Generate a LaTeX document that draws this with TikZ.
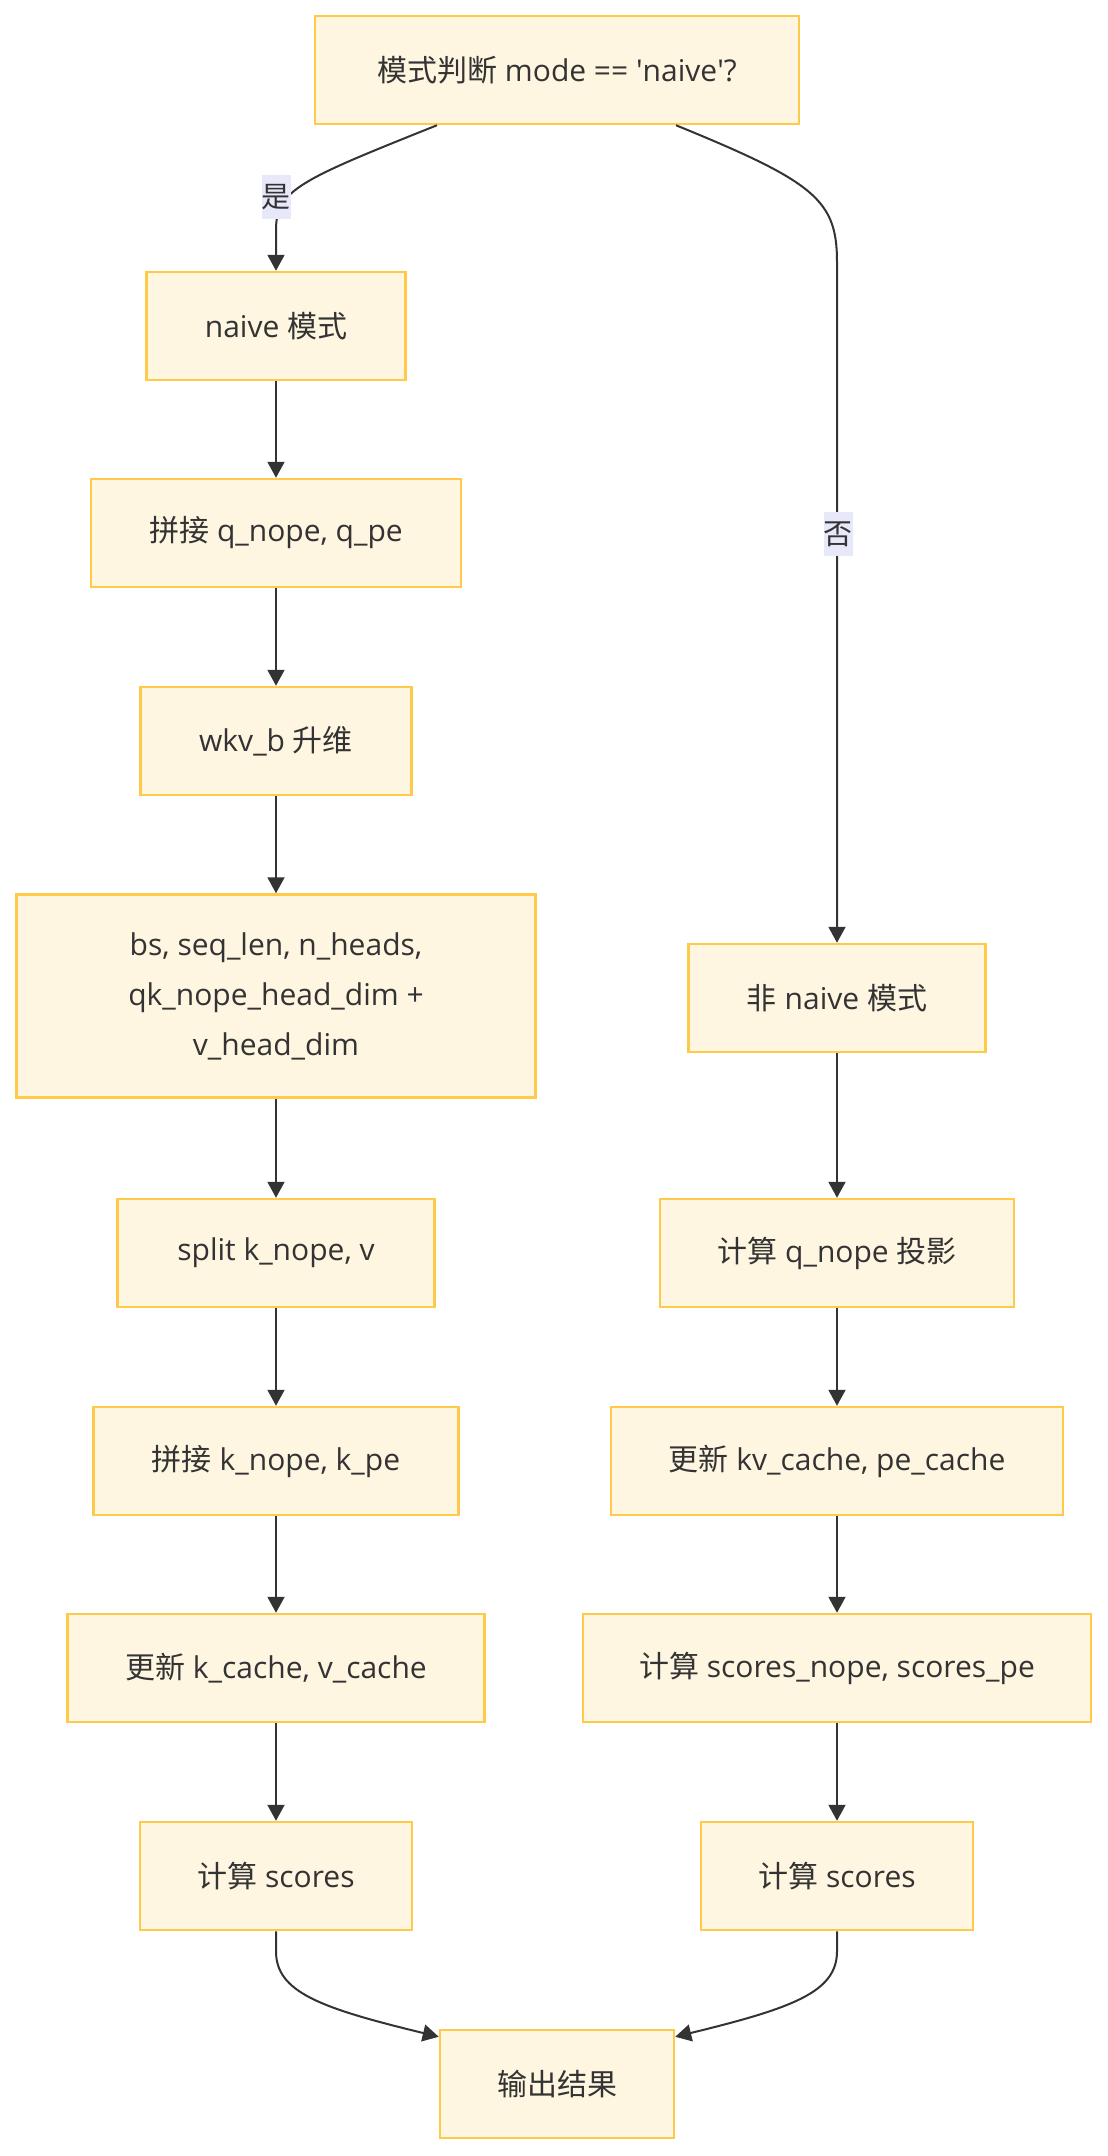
\documentclass[tikz,border=0pt]{standalone}
\usepackage{fontspec}
\setmainfont{Open Sans}
\newfontfamily\cjk{Noto Sans CJK SC}
\usetikzlibrary{arrows.meta}
\definecolor{boxfill}{HTML}{FFF6E2}
\definecolor{boxline}{HTML}{FFC94A}
\definecolor{ink}{HTML}{333333}
\definecolor{lblbg}{HTML}{E8E8FB}
\begin{document}
\begin{tikzpicture}[x=1pt,y=-1pt,
  box/.style={draw=boxline,fill=boxfill,line width=2.5pt,minimum height=108pt,inner sep=0pt,align=center,text=ink,font=\fontsize{30}{50}\selectfont},
  conn/.style={draw=ink,line width=2pt,-{Triangle[length=16pt,width=17pt]}},
  lbl/.style={fill=lblbg,text=ink,inner sep=0pt,minimum width=29pt,minimum height=44pt,font=\fontsize{29}{34}\selectfont}]
\useasboundingbox (0,0) rectangle (1108,2156);
% nodes
\node[box,minimum width=484pt] (top) at (557,70) {{\cjk 模式判断} mode == \textquotesingle naive\textquotesingle ?};
\node[box,minimum width=259pt] (naive) at (276,326) {naive {\cjk 模式}};
\node[box,minimum width=370pt] (qcat) at (276,533) {{\cjk 拼接} q\_nope, q\_pe};
\node[box,minimum width=271pt] (wkv) at (276,741) {wkv\_b {\cjk 升维}};
\node[box,minimum width=519pt,minimum height=203pt] (bs) at (276,996) {bs, seq\_len, n\_heads,\\qk\_nope\_head\_dim +\\v\_head\_dim};
\node[box,minimum width=317pt] (split) at (276,1253) {split k\_nope, v};
\node[box,minimum width=365pt] (kcat) at (276,1461) {{\cjk 拼接} k\_nope, k\_pe};
\node[box,minimum width=417pt] (kcache) at (276,1668) {{\cjk 更新} k\_cache, v\_cache};
\node[box,minimum width=272pt] (scl) at (276,1876) {{\cjk 计算} scores};
\node[box,minimum width=297pt] (nonnaive) at (837,998) {{\cjk 非} naive {\cjk 模式}};
\node[box,minimum width=354pt] (qnope) at (837,1253) {{\cjk 计算} q\_nope {\cjk 投影}};
\node[box,minimum width=452pt] (kvcache) at (837,1461) {{\cjk 更新} kv\_cache, pe\_cache};
\node[box,minimum width=508pt] (snope) at (837,1668) {{\cjk 计算} scores\_nope, scores\_pe};
\node[box,minimum width=272pt] (scr) at (837,1876) {{\cjk 计算} scores};
\node[box,minimum width=234pt] (out) at (557,2084) {{\cjk 输出结果}};
% connectors
\draw[conn] ([xshift=-120pt]top.south) .. controls (300,180) and (276,190) .. (276,230) -- (naive.north);
\draw[conn] ([xshift=119pt]top.south) .. controls (815,182) and (837,200) .. (837,262) -- (nonnaive.north);
\node[lbl] (yes) at (276,197) {\cjk 是};
\node[lbl] (no) at (838,534) {\cjk 否};
\draw[conn] (naive) -- (qcat);
\draw[conn] (qcat) -- (wkv);
\draw[conn] (wkv) -- (bs);
\draw[conn] (bs) -- (split);
\draw[conn] (split) -- (kcat);
\draw[conn] (kcat) -- (kcache);
\draw[conn] (kcache) -- (scl);
\draw[conn] (nonnaive) -- (qnope);
\draw[conn] (qnope) -- (kvcache);
\draw[conn] (kvcache) -- (snope);
\draw[conn] (snope) -- (scr);
\draw[conn] (scl.south) -- ++(0,20) .. controls (276,1992) and (320,2008) .. ([yshift=-8pt]out.north west);
\draw[conn] (scr.south) -- ++(0,20) .. controls (837,1992) and (793,2008) .. ([yshift=-8pt]out.north east);
\end{tikzpicture}
\end{document}
